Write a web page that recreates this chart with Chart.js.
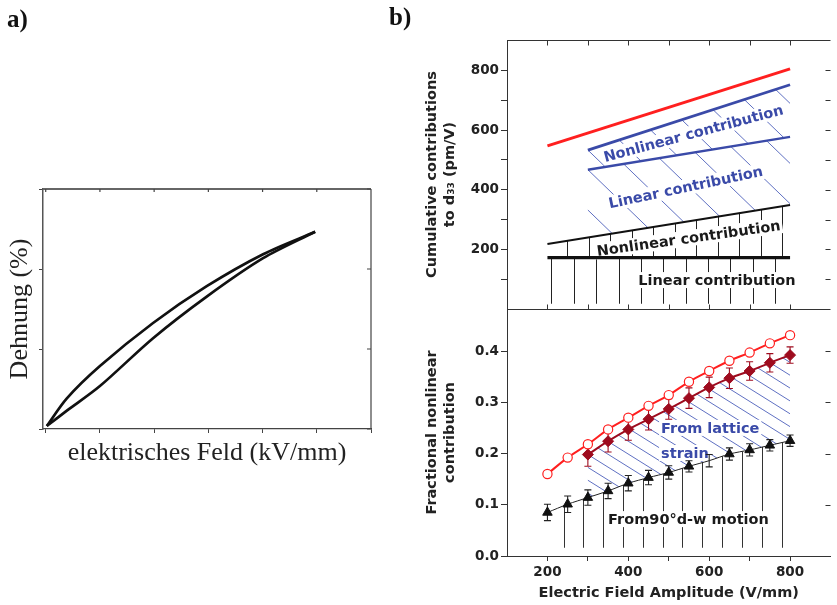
<!DOCTYPE html>
<html>
<head>
<meta charset="utf-8">
<script src="https://cdn.jsdelivr.net/npm/chart.js@4.4.1/dist/chart.umd.min.js"></script>
<style>
  body { margin: 0; background: #fff; }
  #page { position: relative; width: 837px; height: 605px; overflow: hidden; }
  canvas { position: absolute; top: 0; }
  .tag { position: absolute; font: bold 25px/25px "Liberation Serif", serif; color: #111; }
</style>
</head>
<body>
<div id="page">
  <canvas id="strainLoop" width="400" height="605" style="left:0"></canvas>
  <canvas id="d33Parts" width="437" height="605" style="left:400px"></canvas>
  <div class="tag" style="left:7px;top:6px">a)</div>
  <div class="tag" style="left:389px;top:4px">b)</div>
</div>
<script>
// a) strain vs. field loop (arbitrary units), both branches listed with rising field
const loopField = [0.02, 0.39, 1.0, 1.98, 2.97, 4.01, 4.97];
const lowerStrain = [0.012, 0.204, 0.512, 1.11, 1.63, 2.11, 2.44];
const upperStrain = [0.012, 0.358, 0.762, 1.30, 1.76, 2.16, 2.44];

// b) cumulative contributions to d33 (pm/V)
const totalField = [200, 800];
const totalD33 = [547, 805];
const latticeField = [300, 800];
const latticeNonlinTop = [533, 752];
const latticeLinTop = [467, 577];
const domainField = [200, 800];
const domainNonlinTop = [218, 349];
const domainLinTop = [172, 172];

// b) fractional nonlinear contribution
const ampField = [200, 250, 300, 350, 400, 450, 500, 550, 600, 650, 700, 750, 800];
const fracTotal = [0.160, 0.192, 0.218, 0.247, 0.270, 0.293, 0.314, 0.340, 0.361, 0.381, 0.397, 0.415, 0.431];
const latticeAmp = [300, 350, 400, 450, 500, 550, 600, 650, 700, 750, 800];
const fracLattice = [0.198, 0.224, 0.247, 0.267, 0.287, 0.308, 0.329, 0.347, 0.361, 0.377, 0.392];
const fracLatticeErr = [0.023, 0.021, 0.021, 0.021, 0.020, 0.020, 0.020, 0.020, 0.018, 0.018, 0.016];
const fracDomain = [0.085, 0.101, 0.114, 0.127, 0.142, 0.153, 0.163, 0.175, 0.186, 0.199, 0.207, 0.216, 0.225];
const fracDomainErr = [0.016, 0.016, 0.015, 0.015, 0.015, 0.014, 0.013, 0.011, 0.012, 0.012, 0.012, 0.011, 0.011];

const fieldTicks = [200, 300, 400, 500, 600, 700, 800];

const pts = (xs, ys) => xs.map((x, i) => ({ x, y: ys[i] }));

const BLUE = '#3a4aa8';
const HATCH_BLUE = '#5f70c2';
const RED = '#ff1f1f';
const DARK_RED = '#9e0b1e';

// ---------- a) ----------
const serif = { family: 'Liberation Serif', size: 26 };

const loopFrame = {
  id: 'loopFrame',
  afterDraw(chart) {
    const { ctx, chartArea: a, scales: { x, y } } = chart;
    ctx.save();
    ctx.strokeStyle = '#666';
    ctx.lineWidth = 2;
    ctx.beginPath();
    ctx.moveTo(a.left, a.top);
    ctx.lineTo(a.right, a.top);
    ctx.stroke();
    ctx.strokeStyle = '#444';
    ctx.lineWidth = 1.2;
    ctx.beginPath();
    ctx.moveTo(a.right, a.top);
    ctx.lineTo(a.right, a.bottom);
    x.ticks.forEach(t => {
      const px = x.getPixelForValue(t.value);
      ctx.moveTo(px, a.top);
      ctx.lineTo(px, a.top + 3);
    });
    y.ticks.forEach(t => {
      const py = y.getPixelForValue(t.value);
      ctx.moveTo(a.right, py);
      ctx.lineTo(a.right - 4, py);
    });
    ctx.stroke();
    ctx.restore();
  }
};

const branch = ys => ({
  data: pts(loopField, ys), showLine: true, tension: 0.3,
  borderColor: '#111', borderWidth: 2.7, pointRadius: 0
});

new Chart(document.getElementById('strainLoop'), {
  type: 'scatter',
  data: { datasets: [branch(lowerStrain), branch(upperStrain)] },
  options: {
    responsive: false,
    animation: false,
    devicePixelRatio: 1,
    events: [],
    layout: { padding: { top: 189, right: 29, bottom: 136, left: 0 } },
    plugins: { legend: { display: false }, tooltip: { enabled: false } },
    scales: {
      x: {
        type: 'linear', min: -0.05, max: 6,
        ticks: { display: false, stepSize: 1, includeBounds: false },
        grid: { drawOnChartArea: false, tickLength: 4, color: '#444' },
        border: { color: '#444', width: 1.2 },
        title: { display: true, text: 'elektrisches Feld (kV/mm)', font: serif, color: '#222', padding: 0 },
        afterFit(s) { s.height = 40; }
      },
      y: {
        type: 'linear', min: -0.025, max: 2.975,
        ticks: { display: false, stepSize: 1, includeBounds: false },
        grid: { drawOnChartArea: false, tickLength: 4, color: '#444' },
        border: { color: '#555', width: 1.5 },
        title: { display: true, text: 'Dehnung (%)', font: serif, color: '#222', padding: { top: 5, bottom: 0 } },
        afterFit(s) { s.width = 43; }
      }
    }
  },
  plugins: [loopFrame]
});

// ---------- b) ----------
const tickFont = { family: 'DejaVu Sans', weight: 'bold', size: 13.5 };
const titleFont = { family: 'DejaVu Sans', weight: 'bold', size: 14.5, lineHeight: 1.25 };
const noteFont = 'bold 14.5px "DejaVu Sans"';

// dataset indices: 0 total, 1 lattice nonlinear, 2 lattice linear, 3 domain nonlinear,
// 4 domain linear, 5 fractional total, 6 fractional lattice, 7 fractional domain
const hatches = [
  { kind: 'vertical', upper: 4, floor: { axis: 'yTop', value: 18 }, start: 210, step: 55.3, color: '#222' },
  { kind: 'vertical', upper: 3, lower: 4, start: 249, step: 53.2, color: '#222' },
  { kind: 'diagonal', upper: 2, lower: 3, angle: 44, gap: 29, color: HATCH_BLUE },
  { kind: 'diagonal', upper: 1, lower: 2, angle: 44, gap: 29, color: HATCH_BLUE },
  { kind: 'diagonal', upper: 6, lower: 7, angle: 32, gap: 10.9, color: HATCH_BLUE },
  { kind: 'vertical', upper: 7, floor: { axis: 'yBot', value: 0.016 }, start: 240, step: 49, color: '#333' }
];

const notes = [
  { text: 'Nonlinear contribution', x: 561, y: 589, axis: 'yTop', angle: -15, color: BLUE, align: 'center' },
  { text: 'Linear contribution', x: 542, y: 408, axis: 'yTop', angle: -12, color: BLUE, align: 'center' },
  { text: 'Nonlinear contribution', x: 549, y: 237, axis: 'yTop', angle: -8, color: '#1a1a1a', align: 'center' },
  { text: 'Linear contribution', x: 619, y: 97, axis: 'yTop', angle: 0, color: '#1a1a1a', align: 'center' },
  { text: 'From lattice', x: 481, y: 0.250, axis: 'yBot', angle: 0, color: BLUE, align: 'left' },
  { text: 'strain', x: 481, y: 0.201, axis: 'yBot', angle: 0, color: BLUE, align: 'left' },
  { text: 'From90°d-w motion', x: 350, y: 0.072, axis: 'yBot', angle: 0, color: '#1a1a1a', align: 'left' }
];

const hatchPlugin = {
  id: 'hatch',
  beforeDatasetsDraw(chart) {
    const { ctx, chartArea: area } = chart;
    const edge = i => chart.getDatasetMeta(i).data.map(p => [p.x, p.y]);
    const trace = list => list.forEach(([x, y], j) => (j ? ctx.lineTo(x, y) : ctx.moveTo(x, y)));
    hatches.forEach(h => {
      ctx.save();
      const up = edge(h.upper);
      ctx.beginPath();
      trace(up);
      ctx.lineTo(up[up.length - 1][0], area.bottom);
      ctx.lineTo(up[0][0], area.bottom);
      ctx.closePath();
      ctx.clip();
      ctx.beginPath();
      if (h.lower !== undefined) {
        const lo = edge(h.lower);
        trace(lo);
        ctx.lineTo(lo[lo.length - 1][0], area.top);
        ctx.lineTo(lo[0][0], area.top);
        ctx.closePath();
      } else {
        const yf = chart.scales[h.floor.axis].getPixelForValue(h.floor.value);
        ctx.rect(area.left, area.top, area.width, yf - area.top);
      }
      ctx.clip();
      ctx.strokeStyle = h.color;
      ctx.lineWidth = 1;
      ctx.beginPath();
      if (h.kind === 'vertical') {
        const xs = chart.scales.x;
        for (let v = h.start; v <= xs.max; v += h.step) {
          const px = Math.round(xs.getPixelForValue(v)) + 0.5;
          ctx.moveTo(px, area.top);
          ctx.lineTo(px, area.bottom);
        }
      } else {
        const a = h.angle * Math.PI / 180;
        const dx = Math.cos(a), dy = Math.sin(a);
        const [ax, ay] = up[0];
        for (let k = -80; k <= 80; k++) {
          const cx = ax - dy * k * h.gap, cy = ay + dx * k * h.gap;
          ctx.moveTo(cx - dx * 1500, cy - dy * 1500);
          ctx.lineTo(cx + dx * 1500, cy + dy * 1500);
        }
      }
      ctx.stroke();
      ctx.restore();
    });
  }
};

const notesPlugin = {
  id: 'notes',
  beforeDatasetsDraw(chart) {
    const { ctx } = chart;
    ctx.save();
    ctx.font = noteFont;
    ctx.textBaseline = 'middle';
    notes.forEach(n => {
      const px = chart.scales.x.getPixelForValue(n.x);
      const py = chart.scales[n.axis].getPixelForValue(n.y);
      const w = ctx.measureText(n.text).width;
      ctx.save();
      ctx.translate(px, py);
      ctx.rotate(n.angle * Math.PI / 180);
      const x0 = n.align === 'left' ? 0 : -w / 2;
      ctx.fillStyle = '#fff';
      ctx.fillRect(x0 - 2, -8, w + 4, 16);
      ctx.fillStyle = n.color;
      ctx.textAlign = 'left';
      ctx.fillText(n.text, x0, 1);
      ctx.restore();
    });
    ctx.restore();
  }
};

const errorBarPlugin = {
  id: 'errorBars',
  beforeDatasetsDraw(chart) {
    const { ctx } = chart;
    chart.data.datasets.forEach((ds, i) => {
      if (!ds.errorBars) return;
      const meta = chart.getDatasetMeta(i);
      const ys = chart.scales[meta.yAxisID];
      ctx.save();
      ctx.strokeStyle = ds.borderColor;
      ctx.lineWidth = 1.1;
      ctx.beginPath();
      meta.data.forEach((p, j) => {
        const v = ds.data[j].y, e = ds.errorBars[j];
        const t = ys.getPixelForValue(v + e), b = ys.getPixelForValue(v - e);
        ctx.moveTo(p.x, t); ctx.lineTo(p.x, b);
        ctx.moveTo(p.x - 3.5, t); ctx.lineTo(p.x + 3.5, t);
        ctx.moveTo(p.x - 3.5, b); ctx.lineTo(p.x + 3.5, b);
      });
      ctx.stroke();
      ctx.restore();
    });
  }
};

const partsFrame = {
  id: 'partsFrame',
  afterDraw(chart) {
    const { ctx, chartArea: a, scales: { x, yTop, yBot } } = chart;
    const mid = Math.round(yTop.bottom) + 0.5;
    const top = Math.round(a.top) + 0.5;
    ctx.save();
    ctx.strokeStyle = '#333';
    ctx.lineWidth = 1;
    ctx.beginPath();
    ctx.moveTo(a.left, top); ctx.lineTo(a.right, top);
    ctx.moveTo(a.left, mid); ctx.lineTo(a.right, mid);
    x.ticks.forEach(t => {
      const px = Math.round(x.getPixelForValue(t.value)) + 0.5;
      ctx.moveTo(px, top); ctx.lineTo(px, top + 5);
      ctx.moveTo(px, mid); ctx.lineTo(px, mid - 5);
    });
    [yTop, yBot].forEach(s => s.ticks.forEach(t => {
      const py = Math.round(s.getPixelForValue(t.value)) + 0.5;
      ctx.moveTo(a.right, py); ctx.lineTo(a.right - 5, py);
    }));
    ctx.stroke();
    ctx.restore();
  }
};

const lineSet = (xs, ys, color, width, axis) => ({
  data: pts(xs, ys), yAxisID: axis, showLine: true, borderColor: color, borderWidth: width, pointRadius: 0
});

new Chart(document.getElementById('d33Parts'), {
  type: 'scatter',
  data: {
    datasets: [
      lineSet(totalField, totalD33, RED, 3, 'yTop'),
      lineSet(latticeField, latticeNonlinTop, BLUE, 2.8, 'yTop'),
      lineSet(latticeField, latticeLinTop, BLUE, 2.4, 'yTop'),
      lineSet(domainField, domainNonlinTop, '#111', 2, 'yTop'),
      lineSet(domainField, domainLinTop, '#111', 3.2, 'yTop'),
      {
        data: pts(ampField, fracTotal), yAxisID: 'yBot', showLine: true, tension: 0.4,
        borderColor: RED, borderWidth: 2, pointStyle: 'circle', pointRadius: 4.6,
        pointBorderWidth: 1.2, pointBorderColor: RED, pointBackgroundColor: '#fff'
      },
      {
        data: pts(latticeAmp, fracLattice), yAxisID: 'yBot', showLine: true, tension: 0.4,
        borderColor: DARK_RED, borderWidth: 2, pointStyle: 'rectRot', pointRadius: 5.5,
        pointBorderWidth: 1, pointBorderColor: DARK_RED, pointBackgroundColor: DARK_RED,
        errorBars: fracLatticeErr
      },
      {
        data: pts(ampField, fracDomain), yAxisID: 'yBot', showLine: true, tension: 0.3,
        borderColor: '#222', borderWidth: 1, pointStyle: 'triangle',
        pointRadius: ampField.map(v => (v === 600 ? 0 : 5.5)),
        pointBorderWidth: 1, pointBorderColor: '#111', pointBackgroundColor: '#111',
        errorBars: fracDomainErr
      }
    ]
  },
  options: {
    responsive: false,
    animation: false,
    devicePixelRatio: 1,
    events: [],
    layout: { padding: { top: 40, right: 0, bottom: 0, left: 0 } },
    plugins: { legend: { display: false }, tooltip: { enabled: false } },
    scales: {
      x: {
        type: 'linear', min: 100, max: 900,
        afterBuildTicks(s) { s.ticks = fieldTicks.map(v => ({ value: v })); },
        ticks: { font: tickFont, color: '#222', padding: 3, maxRotation: 0, autoSkip: false,
                 callback: v => (v % 200 === 0 ? String(v) : '') },
        grid: { drawOnChartArea: false, tickLength: 5, color: '#333' },
        border: { color: '#333' },
        title: { display: true, text: 'Electric Field Amplitude (V/mm)', font: titleFont, color: '#222',
                 padding: { top: 0, bottom: 3 } },
        afterFit(s) { s.height = 49; }
      },
      yBot: {
        type: 'linear', position: 'left', stack: 'parts', stackWeight: 247,
        min: 0, max: 0.482,
        afterBuildTicks(s) { s.ticks = s.ticks.filter(t => t.value <= 0.41); },
        ticks: { stepSize: 0.1, includeBounds: false, autoSkip: false, font: tickFont, color: '#222', padding: 2,
                 callback: v => v.toFixed(1) },
        grid: { drawOnChartArea: false, tickLength: 6, color: '#333' },
        border: { color: '#333' },
        title: { display: true, text: ['Fractional nonlinear', 'contribution'], font: titleFont, color: '#222',
                 padding: { top: 23, bottom: 0 } },
        afterFit(s) { s.width = 107; }
      },
      yTop: {
        type: 'linear', position: 'left', stack: 'parts', stackWeight: 269,
        min: 0, max: 902,
        afterBuildTicks(s) { s.ticks = [100, 200, 300, 400, 500, 600, 700, 800].map(v => ({ value: v })); },
        ticks: { stepSize: 100, includeBounds: false, autoSkip: false, font: tickFont, color: '#222', padding: 2,
                 callback: v => (Math.round(v) % 200 === 0 ? String(Math.round(v)) : '') },
        grid: { drawOnChartArea: false, tickLength: 6, color: '#333' },
        border: { color: '#333' },
        title: { display: true, text: ['Cumulative contributions', 'to d₃₃ (pm/V)'], font: titleFont, color: '#222',
                 padding: { top: 23, bottom: 0 } },
        afterFit(s) { s.width = 107; }
      }
    }
  },
  plugins: [hatchPlugin, notesPlugin, errorBarPlugin, partsFrame]
});
</script>
</body>
</html>
